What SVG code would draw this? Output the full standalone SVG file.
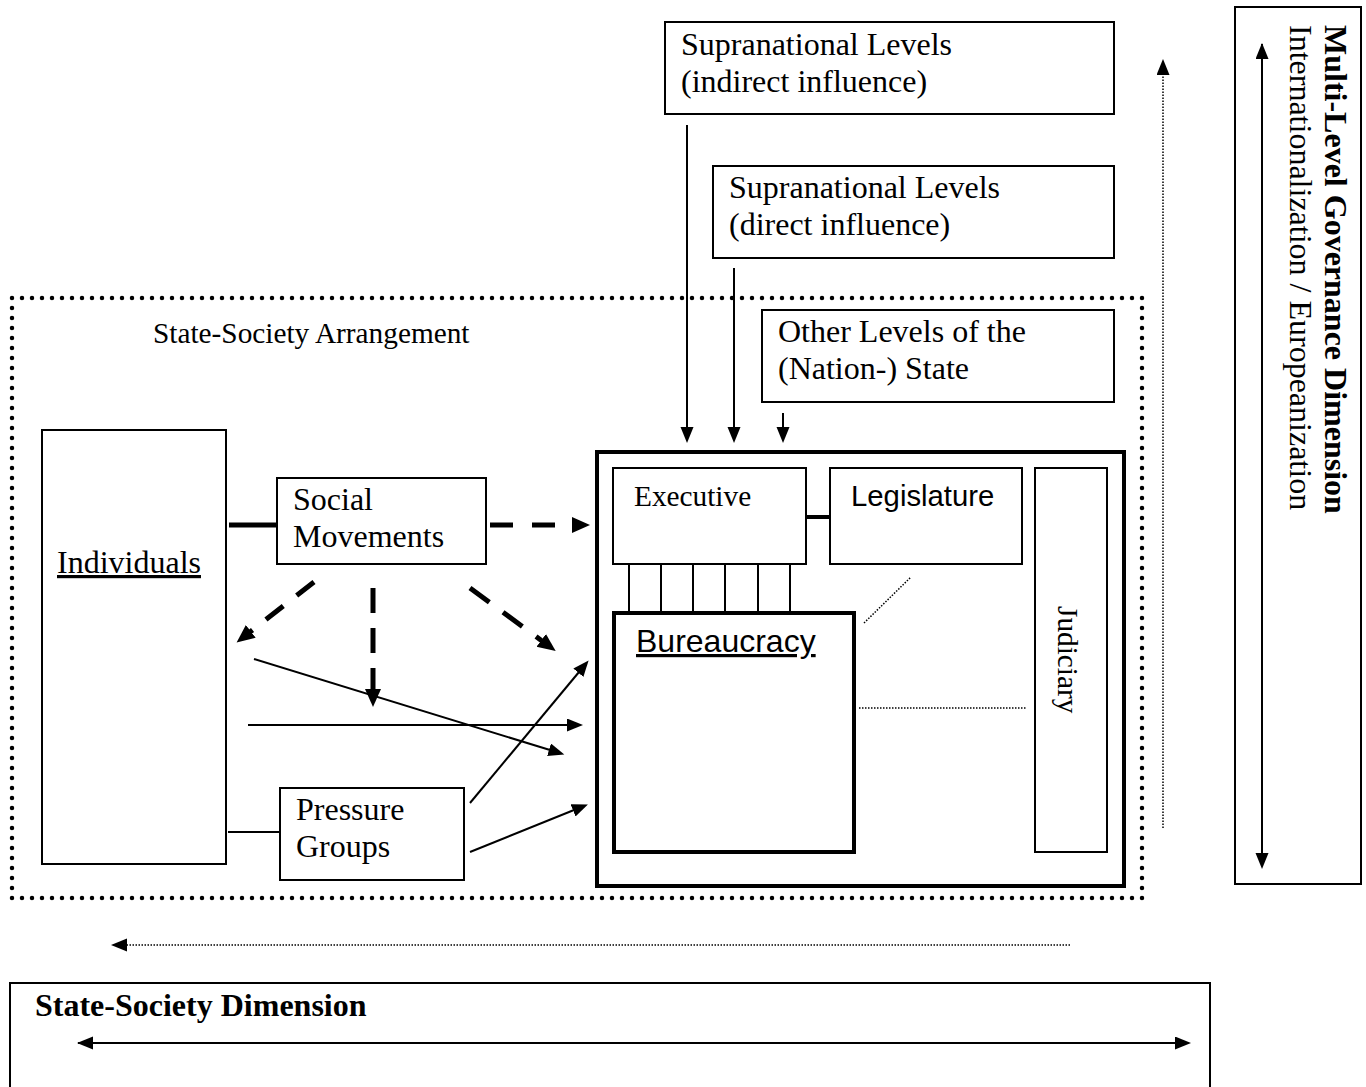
<svg xmlns="http://www.w3.org/2000/svg" width="1366" height="1087" viewBox="0 0 1366 1087">
<style>
.box{fill:#fff;stroke:#000;stroke-width:2}
.thick{fill:#fff;stroke:#000;stroke-width:4}
.t{font-family:"Liberation Serif","Times New Roman",serif;font-size:32px;fill:#000}
.t11{font-family:"Liberation Serif","Times New Roman",serif;font-size:29.3px;fill:#000}
.a11{font-family:"Liberation Sans",Arial,sans-serif;font-size:29.3px;fill:#000}
.a12{font-family:"Liberation Sans",Arial,sans-serif;font-size:32px;fill:#000}
.b{font-family:"Liberation Serif","Times New Roman",serif;font-size:32px;font-weight:bold;fill:#000}
.ln{fill:none;stroke:#000;stroke-width:2}
.dash{fill:none;stroke:#000;stroke-width:5}
.dot{fill:none;stroke:#000;stroke-width:1.5;stroke-dasharray:1.5 1.5}
</style>
<defs>
<marker id="big" markerUnits="userSpaceOnUse" markerWidth="20" markerHeight="18" refX="1" refY="8" orient="auto"><path d="M0,0 L18,8 L0,16 z" fill="#000"/></marker>
<marker id="sm" markerUnits="userSpaceOnUse" markerWidth="18" markerHeight="14" refX="1" refY="6.5" orient="auto"><path d="M0,0 L16,6.5 L0,13 z" fill="#000"/></marker>
<marker id="smS" markerUnits="userSpaceOnUse" markerWidth="18" markerHeight="14" refX="15" refY="6.5" orient="auto-start-reverse"><path d="M0,0 L16,6.5 L0,13 z" fill="#000"/></marker>
</defs>
<rect width="1366" height="1087" fill="#fff"/>

<g id="arrangement">
<path d="M12,298 H1142 V898 H12 Z" fill="none" stroke="#000" stroke-width="4.5" stroke-dasharray="0 10" stroke-linecap="round"/>
<text class="t11" x="153" y="343">State-Society Arrangement</text>
</g>

<g id="supra-indirect"><rect class="box" x="665" y="22" width="449" height="92"/>
<text class="t" x="681" y="55">Supranational Levels</text><text class="t" x="681" y="92">(indirect influence)</text></g>
<g id="supra-direct"><rect class="box" x="713" y="166" width="401" height="92"/>
<text class="t" x="729" y="198">Supranational Levels</text><text class="t" x="729" y="235">(direct influence)</text></g>
<g id="other-levels"><rect class="box" x="762" y="310" width="352" height="92"/>
<text class="t" x="778" y="342">Other Levels of the</text><text class="t" x="778" y="379">(Nation-) State</text></g>

<g id="individuals"><rect class="box" x="42" y="430" width="184" height="434"/>
<text class="t" x="57" y="573" text-decoration="underline">Individuals</text></g>
<g id="social-movements"><rect class="box" x="277" y="478" width="209" height="86"/>
<text class="t" x="293" y="510">Social</text><text class="t" x="293" y="547">Movements</text></g>
<g id="pressure-groups"><rect class="box" x="280" y="788" width="184" height="92"/>
<text class="t" x="296" y="820">Pressure</text><text class="t" x="296" y="857">Groups</text></g>

<g id="state"><rect class="thick" x="597" y="452" width="527" height="434"/></g>
<g id="executive"><rect class="box" x="613" y="468" width="193" height="96"/>
<text class="t11" x="634" y="506">Executive</text></g>
<g id="legislature"><rect class="box" x="830" y="468" width="192" height="96"/>
<text class="a11" x="851" y="506">Legislature</text></g>
<g id="judiciary"><rect class="box" x="1035" y="468" width="72" height="384"/>
<text class="t11" transform="translate(1058,606) rotate(90)">Judiciary</text></g>
<g id="bureaucracy"><rect class="thick" x="614" y="613" width="240" height="239"/>
<text class="a12" x="636" y="652" text-decoration="underline">Bureaucracy</text></g>

<g id="multilevel"><rect class="box" x="1235" y="7" width="126" height="877"/>
<text class="b" transform="translate(1325,25) rotate(90)">Multi-Level Governance Dimension</text>
<text class="t" transform="translate(1290,25) rotate(90)">Internationalization / Europeanization</text></g>
<g id="state-society-dimension"><rect class="box" x="10" y="983" width="1200" height="120"/>
<text class="b" x="35" y="1016">State-Society Dimension</text></g>

<g id="connectors">
<line x1="229" y1="525" x2="277" y2="525" stroke="#000" stroke-width="5"/>
<line class="ln" x1="228" y1="832" x2="280" y2="832"/>
<line x1="806" y1="517" x2="830" y2="517" stroke="#000" stroke-width="4"/>
<path class="ln" d="M629,564V612M661,564V612M693,564V612M725,564V612M758,564V612M790,564V612"/>
<line class="dot" x1="864" y1="623" x2="911" y2="577"/>
<line class="dot" x1="859" y1="708" x2="1026" y2="708"/>

<line class="dash" x1="490" y1="525" x2="573" y2="525" stroke-dasharray="23 19" marker-end="url(#big)"/>
<line class="dash" x1="373" y1="588" x2="373" y2="690" stroke-dasharray="25 15" marker-end="url(#big)"/>
<line class="dash" x1="314" y1="582" x2="250" y2="632" stroke-dasharray="22 17" marker-end="url(#big)"/>
<line class="dash" x1="470" y1="588" x2="542" y2="641" stroke-dasharray="24 17" marker-end="url(#big)"/>

<line class="ln" x1="254" y1="659" x2="550" y2="750" marker-end="url(#sm)"/>
<line class="ln" x1="248" y1="725" x2="568" y2="725" marker-end="url(#sm)"/>
<line class="ln" x1="470" y1="803" x2="579" y2="672" marker-end="url(#sm)"/>
<line class="ln" x1="470" y1="852" x2="574" y2="810" marker-end="url(#sm)"/>

<line class="ln" x1="687" y1="125" x2="687" y2="428" marker-end="url(#sm)"/>
<line class="ln" x1="734" y1="268" x2="734" y2="428" marker-end="url(#sm)"/>
<line class="ln" x1="783" y1="413" x2="783" y2="428" marker-end="url(#sm)"/>

<line class="dot" x1="1163" y1="828" x2="1163" y2="74" marker-end="url(#sm)"/>
<line class="dot" x1="1070" y1="945" x2="126" y2="945" marker-end="url(#sm)"/>

<line class="ln" x1="1262" y1="44" x2="1262" y2="854" marker-start="url(#smS)" marker-end="url(#sm)"/>
<line class="ln" x1="78" y1="1043" x2="1176" y2="1043" marker-start="url(#smS)" marker-end="url(#sm)"/>
</g>
</svg>
